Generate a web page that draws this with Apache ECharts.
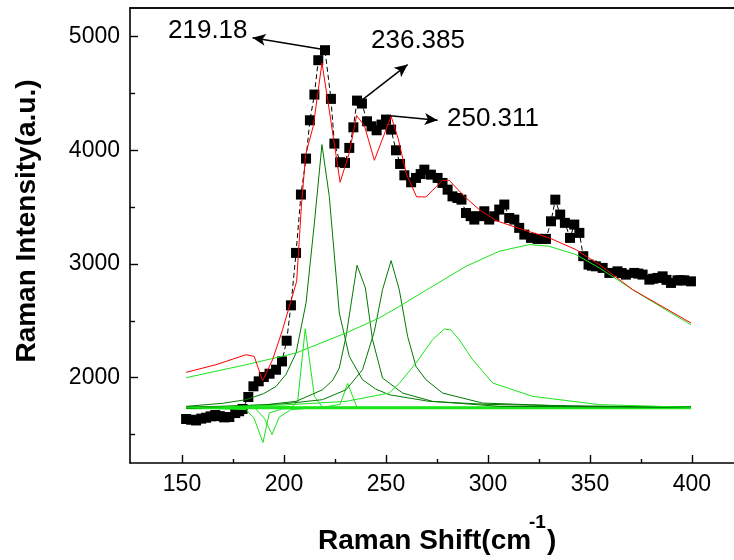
<!DOCTYPE html>
<html>
<head>
<meta charset="utf-8">
<script src="https://cdn.jsdelivr.net/npm/echarts@6/dist/echarts.min.js"></script>
<style>
  html, body { margin: 0; padding: 0; background: #fff; }
  #chart { width: 734px; height: 560px; }
</style>
</head>
<body>
<div id="chart"></div>
<script>
// measured spectrum (black squares)
const spectrum = [
  [152, 1637], [154.5, 1630], [156.9, 1624], [159.4, 1640], [161.8, 1648], [164, 1660],
  [166.3, 1672], [168.5, 1662], [170.7, 1651], [173.2, 1654], [176.1, 1689], [178, 1705],
  [179.7, 1725], [182.5, 1830], [185, 1924], [187.6, 1968], [190.1, 2006], [192.9, 2035],
  [196.1, 2070], [199, 2143], [201.3, 2325], [203.4, 2636], [205.9, 3097], [208.3, 3610],
  [210.8, 3926], [212.7, 4263], [214.9, 4489], [216.8, 4791], [220.1, 4879], [223, 4451],
  [224.7, 4058], [227.5, 3894], [229.9, 3888], [232, 4020], [234, 4201], [235.8, 4436],
  [238.2, 4410], [240.7, 4254], [242.9, 4210], [245.4, 4175], [247.8, 4225], [250, 4269],
  [252.5, 4181], [254.9, 3999], [256.9, 3879], [259, 3779], [262.3, 3718], [264.7, 3756],
  [267, 3790], [268.8, 3829], [272, 3785], [275.3, 3756], [277.7, 3712], [280.2, 3653],
  [282.6, 3594], [285, 3580], [287, 3565], [289.2, 3448], [291.5, 3420], [293.3, 3390],
  [296, 3420], [298.2, 3463], [300.6, 3390], [303.1, 3419], [305.5, 3478], [308, 3522],
  [310.4, 3404], [312.9, 3390], [315.3, 3317], [317.8, 3258], [321.1, 3229], [324.3, 3220],
  [326.5, 3220], [328.4, 3220], [330.9, 3375], [333, 3565], [335.4, 3434], [337.7, 3361],
  [340.2, 3229], [342.3, 3346], [344.8, 3273], [346.7, 3068], [349.3, 2994], [351, 2985],
  [352.9, 2979], [356.2, 2965], [359.5, 2921], [363.5, 2935], [365.5, 2920], [367.6, 2906],
  [371.7, 2921], [373.7, 2915], [375.8, 2906], [379.1, 2862], [381, 2870], [383.1, 2877],
  [385.6, 2891], [387.5, 2860], [389.7, 2833], [392.9, 2856], [394.5, 2856], [396.2, 2856],
  [399.5, 2847]
];

// cumulative fit (red)
const fitTotal = [
  [152, 2047], [166.6, 2114], [181.4, 2202], [185.4, 2187], [189.5, 1974], [194.4, 2158],
  [199.3, 2422], [206.2, 2847], [208.5, 3500], [210.6, 3960], [214.4, 4216], [218.6, 4768],
  [221.4, 4445], [227.5, 3718], [232, 3976], [235.6, 4304], [239.4, 4216], [244.3, 3911],
  [252.5, 4298], [256, 4100], [260, 3790], [265, 3590], [269.6, 3589], [277.7, 3735],
  [281, 3735], [288.4, 3594], [295.7, 3478], [303.9, 3381], [317, 3302], [330, 3229],
  [343.1, 3126], [354.6, 2994], [370.9, 2774], [385, 2630], [399.5, 2481]
];

// fitted peaks, dark green
const peak219 = [
  [152, 1748], [170, 1775], [181.4, 1807], [190, 1860], [196.1, 1923], [201, 2030],
  [205.9, 2217], [210.8, 2657], [214.9, 3361], [218.6, 4049], [222.2, 3594], [227.1, 2569],
  [232, 2187], [238.5, 1982], [245, 1900], [251.6, 1850], [271.2, 1792], [300, 1765],
  [350, 1750], [399.5, 1745]
];
const peak236 = [
  [152, 1740], [190, 1760], [205.9, 1792], [218.9, 1894], [224, 1980], [227.1, 2085],
  [230.4, 2363], [235.8, 2988], [239.9, 2789], [243.4, 2334], [248.3, 1997], [258.1, 1865],
  [272.8, 1792], [305.5, 1748], [399.5, 1740]
];
const peak252 = [
  [152, 1730], [200, 1770], [218.9, 1807], [230.4, 1894], [238.5, 2070], [244.3, 2407],
  [248.3, 2774], [252.5, 3029], [256.5, 2774], [260.6, 2363], [264.7, 2099], [269.6, 1982],
  [277.7, 1865], [297.3, 1777], [340, 1750], [399.5, 1740]
];

// fitted peaks, light green
const peak280 = [
  [152, 1735], [200, 1760], [230.4, 1792], [251.6, 1865], [256.5, 1950], [264.7, 2129],
  [272.8, 2334], [278.6, 2428], [281.9, 2419], [285.9, 2334], [292.5, 2158], [302.3, 1953],
  [321.9, 1836], [354.6, 1763], [399.5, 1740]
];
const peakBroad = [
  [152, 2000], [181.4, 2114], [205.9, 2217], [230.4, 2393], [246.7, 2525], [256.5, 2627],
  [272.8, 2803], [289.2, 2979], [305.5, 3111], [320.2, 3170], [330, 3155], [343.1, 3082],
  [354.6, 2965], [370.9, 2774], [385, 2620], [399.5, 2466]
];
const peak210 = [
  [152, 1738], [204, 1745], [206.7, 1792], [210.4, 2430], [214.9, 1836], [218.9, 1740],
  [399.5, 1738]
];
const peak231 = [
  [152, 1738], [218.9, 1740], [227.5, 1765], [231.2, 1950], [235.8, 1738], [399.5, 1738]
];
const dip190 = [
  [152, 1738], [181.4, 1719], [185.4, 1640], [189.7, 1430], [192.8, 1690], [199, 1725],
  [210, 1735], [399.5, 1738]
];
const dip194 = [
  [152, 1738], [186, 1730], [190.5, 1640], [194.1, 1500], [197.7, 1654], [203.4, 1719],
  [215, 1735], [399.5, 1738]
];
const baseline = [[152, 1735], [399.5, 1735]];

// annotations: arrow start (on the peak) and arrow end
const arrows = [
  [[219.4, 4885], [184.6, 4988]],
  [[238.5, 4445], [260.6, 4753]],
  [[250.8, 4304], [275.3, 4263]]
];
const peakLabels = ['219.18', '236.385', '250.311'];

const xMajor = [150, 200, 250, 300, 350, 400];
const xMinor = [175, 225, 275, 325, 375];
const yMajor = [2000, 3000, 4000, 5000];
const yMinor = [1500, 2500, 3500, 4500];

const FONT = '"Liberation Sans", Arial, sans-serif';
const DARK = '#007a00';
const LIME = '#19e619';

const chart = echarts.init(document.getElementById('chart'));

function lineSeries(data, color, width) {
  return {
    type: 'line', data: data, symbol: 'none', silent: true,
    lineStyle: { color: color, width: width || 1 }, z: 3
  };
}

// plot box runs to the right edge of the picture
const xRange = { min: 124.5, max: 420.6 };
const yRange = { min: 1250, max: 5250 };
const plain = v => String(v);

const option = {
  animation: false,
  backgroundColor: '#fff',
  grid: { left: 130, top: 8, right: 0, bottom: 97 },
  xAxis: [
    {
      type: 'value', position: 'bottom', ...xRange,
      axisLine: { lineStyle: { color: '#000', width: 1.6 } },
      axisTick: { inside: true, length: 8, customValues: xMajor, lineStyle: { color: '#000', width: 1.4 } },
      axisLabel: { customValues: xMajor, formatter: plain, margin: 10, fontSize: 23, color: '#000', fontFamily: FONT },
      splitLine: { show: false }
    },
    {
      type: 'value', position: 'bottom', ...xRange,
      axisLine: { show: false },
      axisTick: { inside: true, length: 4, customValues: xMinor, lineStyle: { color: '#000', width: 1.4 } },
      axisLabel: { show: false }, splitLine: { show: false }
    },
    {
      type: 'value', position: 'top', ...xRange,
      axisLine: { lineStyle: { color: '#111', width: 2 } },
      axisTick: { show: false }, axisLabel: { show: false }, splitLine: { show: false }
    }
  ],
  yAxis: [
    {
      type: 'value', position: 'left', ...yRange,
      axisLine: { show: true, lineStyle: { color: '#000', width: 1.6 } },
      axisTick: { inside: true, length: 8, customValues: yMajor, lineStyle: { color: '#000', width: 1.4 } },
      axisLabel: { customValues: yMajor, formatter: plain, margin: 10, fontSize: 23, color: '#000', fontFamily: FONT },
      splitLine: { show: false }
    },
    {
      type: 'value', position: 'left', ...yRange,
      axisLine: { show: false },
      axisTick: { inside: true, length: 5, customValues: yMinor, lineStyle: { color: '#000', width: 1.4 } },
      axisLabel: { show: false }, splitLine: { show: false }
    }
  ],
  series: [
    {
      type: 'line', data: spectrum, symbol: 'rect', symbolSize: 10, silent: true,
      itemStyle: { color: '#000' }, lineStyle: { color: '#000', width: 1, type: [5, 3] }, z: 2,
      markLine: {
        silent: true, symbol: ['none', 'arrow'], symbolSize: [9, 13],
        lineStyle: { color: '#000', width: 1.5, type: 'solid' },
        label: { show: false },
        data: arrows.map(a => [{ coord: a[0] }, { coord: a[1] }])
      }
    },
    lineSeries(baseline, LIME, 3),
    lineSeries(dip190, LIME),
    lineSeries(dip194, LIME),
    lineSeries(peak210, LIME),
    lineSeries(peak231, LIME),
    lineSeries(peak219, DARK),
    lineSeries(peak236, DARK),
    lineSeries(peak252, DARK),
    lineSeries(peak280, LIME),
    lineSeries(peakBroad, LIME),
    Object.assign(lineSeries(fitTotal, '#ff0000'), { z: 4 })
  ],
  graphic: [
    { type: 'text', left: 168, top: 18, style: { text: peakLabels[0], font: '26px ' + FONT, fill: '#000' } },
    { type: 'text', left: 371, top: 28, style: { text: peakLabels[1], font: '26px ' + FONT, fill: '#000' } },
    { type: 'text', left: 447, top: 106, style: { text: peakLabels[2], font: '26px ' + FONT, fill: '#000' } },
    { type: 'text', x: 318, y: 541, style: { text: 'Raman Shift(cm', font: 'bold 28px ' + FONT, fill: '#000', align: 'left', verticalAlign: 'middle' } },
    { type: 'text', x: 529, y: 523, style: { text: '-1', font: 'bold 19px ' + FONT, fill: '#000', align: 'left', verticalAlign: 'middle' } },
    { type: 'text', x: 547, y: 541, style: { text: ')', font: 'bold 28px ' + FONT, fill: '#000', align: 'left', verticalAlign: 'middle' } },
    { type: 'text', x: 27, y: 221, rotation: Math.PI / 2, style: { text: 'Raman Intensity(a.u.)', font: 'bold 28px ' + FONT, fill: '#000', align: 'center', verticalAlign: 'middle' } }
  ]
};

chart.setOption(option);
</script>
</body>
</html>
